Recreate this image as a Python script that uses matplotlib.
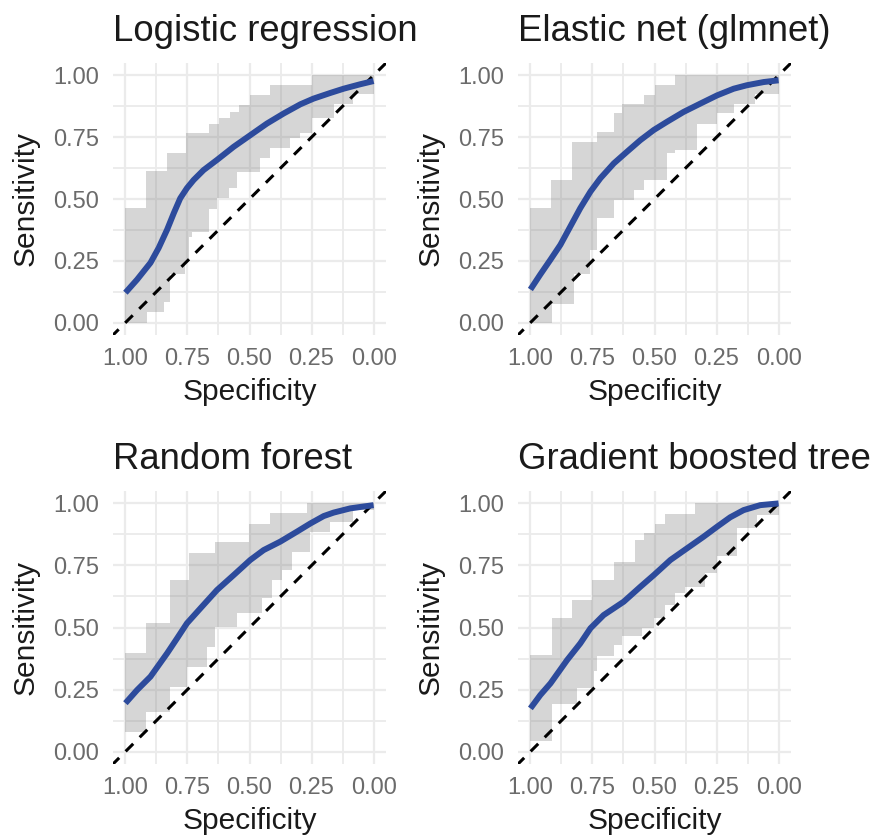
import numpy as np
import matplotlib
matplotlib.use("Agg")
import matplotlib.pyplot as plt

plt.rcParams["font.family"] = ["Liberation Sans", "DejaVu Sans"]

titles = ["Logistic regression", "Elastic net (glmnet)", "Random forest", "Gradient boosted tree"]

# smoothed ROC curves (specificity, sensitivity)
curve_spec = [
    [1.0, 0.953, 0.899, 0.866, 0.832, 0.805, 0.779, 0.752, 0.725, 0.685, 0.631, 0.564, 0.497, 0.430,
     0.362, 0.295, 0.242, 0.174, 0.121, 0.054, 0.0],
    [1.0, 0.960, 0.919, 0.879, 0.839, 0.799, 0.758, 0.718, 0.664, 0.611, 0.557, 0.503, 0.450, 0.383,
     0.315, 0.248, 0.181, 0.128, 0.060, 0.0],
    [1.0, 0.953, 0.899, 0.832, 0.792, 0.752, 0.698, 0.631, 0.564, 0.497, 0.443, 0.376, 0.309, 0.255,
     0.201, 0.161, 0.094, 0.0],
    [1.0, 0.960, 0.919, 0.852, 0.799, 0.758, 0.705, 0.624, 0.557, 0.503, 0.436, 0.369, 0.302, 0.248,
     0.195, 0.141, 0.074, 0.0],
]
curve_sens = [
    [0.121, 0.174, 0.242, 0.302, 0.376, 0.443, 0.503, 0.544, 0.577, 0.617, 0.658, 0.711, 0.758, 0.805,
     0.846, 0.883, 0.906, 0.929, 0.946, 0.964, 0.977],
    [0.134, 0.195, 0.255, 0.315, 0.389, 0.463, 0.530, 0.584, 0.644, 0.691, 0.738, 0.779, 0.812, 0.852,
     0.886, 0.919, 0.946, 0.960, 0.973, 0.980],
    [0.195, 0.248, 0.302, 0.396, 0.456, 0.517, 0.577, 0.651, 0.711, 0.772, 0.812, 0.846, 0.886, 0.919,
     0.949, 0.963, 0.980, 0.993],
    [0.174, 0.228, 0.275, 0.369, 0.436, 0.497, 0.550, 0.604, 0.664, 0.711, 0.772, 0.819, 0.866, 0.906,
     0.944, 0.973, 0.993, 1.0],
]

# confidence band: step breakpoints in specificity and sensitivity level per step
upper_breaks = [
    [1.0, 0.919, 0.832, 0.754, 0.664, 0.624, 0.577, 0.544, 0.497, 0.416, 0.248, 0.0],
    [1.0, 0.919, 0.832, 0.732, 0.664, 0.631, 0.544, 0.497, 0.416, 0.0],
    [1.0, 0.919, 0.819, 0.745, 0.638, 0.503, 0.416, 0.268, 0.0],
    [1.0, 0.913, 0.832, 0.752, 0.664, 0.577, 0.544, 0.497, 0.456, 0.336, 0.0],
]
upper_levels = [
    [0.463, 0.615, 0.687, 0.765, 0.805, 0.826, 0.852, 0.879, 0.919, 0.96, 1.0],
    [0.463, 0.577, 0.732, 0.772, 0.846, 0.886, 0.919, 0.96, 1.0],
    [0.399, 0.517, 0.691, 0.799, 0.846, 0.919, 0.96, 1.0],
    [0.389, 0.54, 0.612, 0.69, 0.765, 0.851, 0.879, 0.918, 0.958, 1.0],
]
lower_breaks = [
    [1.0, 0.913, 0.845, 0.819, 0.758, 0.745, 0.732, 0.664, 0.631, 0.584, 0.55, 0.456, 0.416, 0.336,
     0.295, 0.248, 0.161, 0.081, 0.0],
    [1.0, 0.913, 0.826, 0.758, 0.732, 0.664, 0.584, 0.544, 0.45, 0.416, 0.329, 0.248, 0.181, 0.094, 0.0],
    [1.0, 0.919, 0.819, 0.752, 0.671, 0.638, 0.55, 0.45, 0.409, 0.369, 0.329, 0.255, 0.174, 0.081, 0.0],
    [1.0, 0.913, 0.812, 0.745, 0.732, 0.664, 0.631, 0.55, 0.503, 0.456, 0.416, 0.376, 0.295, 0.248,
     0.168, 0.087, 0.0],
]
lower_levels = [
    [0.0, 0.043, 0.083, 0.197, 0.244, 0.345, 0.365, 0.459, 0.506, 0.546, 0.61, 0.664, 0.705, 0.745,
     0.765, 0.826, 0.886, 0.926],
    [0.0, 0.074, 0.195, 0.295, 0.423, 0.497, 0.537, 0.577, 0.685, 0.698, 0.805, 0.846, 0.886, 0.926],
    [0.08, 0.161, 0.262, 0.342, 0.423, 0.503, 0.557, 0.617, 0.691, 0.732, 0.805, 0.886, 0.926, 0.973],
    [0.042, 0.19, 0.257, 0.324, 0.384, 0.43, 0.465, 0.5, 0.54, 0.59, 0.637, 0.664, 0.718, 0.79, 0.9,
     0.955],
]

tick_vals = [0.0, 0.25, 0.5, 0.75, 1.0]
tick_labels = ["0.00", "0.25", "0.50", "0.75", "1.00"]


def steps(breaks, levels):
    b = np.asarray(breaks)
    lv = np.asarray(levels)
    xs = np.repeat(b, 2)[1:-1]
    ys = np.repeat(lv, 2)
    return xs, ys


W, H = 875, 836
fig = plt.figure(figsize=(W / 100, H / 100), dpi=100)

# panel boxes in pixels: left, top, width, height
boxes = [(113, 63, 273, 272), (518, 63, 273, 272), (113, 491, 273, 273), (518, 491, 273, 273)]

for i, (l, t, w, h) in enumerate(boxes):
    ax = fig.add_axes([l / W, 1 - (t + h) / H, w / W, h / H])
    ax.set_xlim(1.05, -0.05)
    ax.set_ylim(-0.05, 1.05)
    ax.set_axisbelow(True)
    for s in ax.spines.values():
        s.set_visible(False)
    ax.set_xticks(tick_vals)
    ax.set_xticklabels(tick_labels)
    ax.set_yticks(tick_vals)
    ax.set_yticklabels(tick_labels)
    ax.set_xticks(np.arange(0.125, 1, 0.25), minor=True)
    ax.set_yticks(np.arange(0.125, 1, 0.25), minor=True)
    ax.grid(True, which="major", color="#EBEBEB", lw=1.6)
    ax.grid(True, which="minor", color="#EBEBEB", lw=1.3)
    ax.tick_params(which="both", length=0)
    ax.tick_params(axis="x", pad=9, labelsize=17, labelcolor="#6B6B6B")
    ax.tick_params(axis="y", pad=10, labelsize=17, labelcolor="#6B6B6B")

    ux, uy = steps(upper_breaks[i], upper_levels[i])
    lx, ly = steps(lower_breaks[i], lower_levels[i])
    px = np.concatenate([ux, lx[::-1]])
    py = np.concatenate([uy, ly[::-1]])
    ax.fill(px, py, color="#808080", alpha=0.32, lw=0, zorder=2)

    ax.axline((1, 0), (0, 1), color="black", lw=2.2, dashes=(3.5, 3), zorder=3)
    ax.plot(curve_spec[i], curve_sens[i], color="#2D4B9C", lw=4.3,
            solid_capstyle="butt", solid_joinstyle="round", zorder=4)

    ax.set_title(titles[i], loc="left", fontsize=26.3, color="#1A1A1A", pad=16)

    ylab_x = 26 if l < 400 else 431
    fig.text(ylab_x / W, 1 - (t + h / 2) / H, "Sensitivity", rotation=90, ha="center",
             va="center", fontsize=21.5, color="#1A1A1A")
    fig.text((l + w / 2) / W, 1 - (t + h + 57) / H, "Specificity", ha="center",
             va="center", fontsize=21.5, color="#1A1A1A")

fig.savefig("out.png", dpi=100)
